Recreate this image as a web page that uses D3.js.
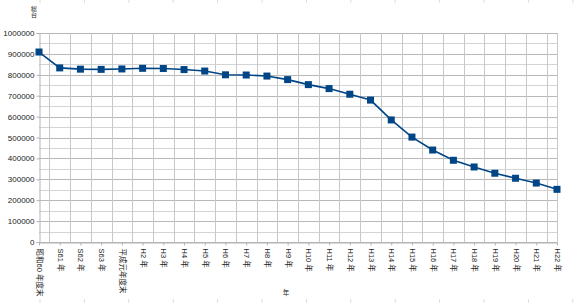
<!DOCTYPE html>
<html><head><meta charset="utf-8">
<script src="https://cdn.jsdelivr.net/npm/d3@7"></script>
<style>body{margin:0;background:#fff}svg{display:block}text{font-family:"Liberation Sans","Noto Sans CJK JP",sans-serif;fill:#222}</style>
</head><body><svg id="c" width="580" height="303"></svg>
<script>
const categories = ["昭和60 年度末","S61 年","S62 年","S63 年","平成元年度末","H2 年","H3 年","H4 年","H5 年","H6 年","H7 年","H8 年","H9 年","H10 年","H11 年","H12 年","H13 年","H14 年","H15 年","H16 年","H17 年","H18 年","H19 年","H20 年","H21 年","H22 年"];
const values = [909000,833000,827000,826000,828000,831000,830000,825000,818000,800000,799000,794000,777000,753000,734000,707000,679000,584000,502000,440000,391000,359000,329000,305000,282000,252000];
const yTicks = [0,100000,200000,300000,400000,500000,600000,700000,800000,900000,1000000];
const yTitle = ["総","台"];
const xTitle = "年";

const svg = d3.select("#c");
const L=39,R=557,T=33,B=242;
const x = d3.scalePoint().domain(categories).range([L,R]);
const y = d3.scaleLinear().domain([0,1000000]).range([B,T]);
const step = x.step();

// faint frame marks
const marks = d3.range(0,13).map(i=>40+i*44.4);
svg.append("g").selectAll("line").data(marks).join("line")
  .attr("x1",d=>d).attr("x2",d=>d).attr("y1",0).attr("y2",3).attr("stroke","#ddd");
svg.append("g").selectAll("line").data(marks).join("line")
  .attr("x1",d=>d).attr("x2",d=>d).attr("y1",299).attr("y2",303).attr("stroke","#ddd");

const grid = svg.append("g");
const hMinor = d3.range(0,1000001,50000);
grid.selectAll("line.h").data(hMinor).join("line").attr("class","h")
  .attr("x1",L).attr("x2",R).attr("y1",d=>Math.round(y(d))+0.5).attr("y2",d=>Math.round(y(d))+0.5)
  .attr("stroke",d=>d%100000===0?"#b8b8b8":"#d4d4d4").attr("stroke-width",1);
const vx = categories.slice(0,-1).map(c=>x(c)+step/2);
grid.selectAll("line.v").data(vx).join("line").attr("class","v")
  .attr("x1",d=>Math.round(d)+0.5).attr("x2",d=>Math.round(d)+0.5).attr("y1",T).attr("y2",B)
  .attr("stroke","#c8c8c8");
grid.append("line").attr("x1",R+0.5).attr("x2",R+0.5).attr("y1",T).attr("y2",B).attr("stroke","#c8c8c8");

const yAxis = d3.axisLeft(y).tickValues(yTicks).tickSize(3).tickPadding(2).tickFormat(d3.format("d"));
const gy = svg.append("g").attr("transform",`translate(${L+0.5},0)`).call(yAxis);
gy.select(".domain").attr("stroke","#b3b3b3");
gy.selectAll(".tick line").attr("stroke","#b3b3b3");
gy.selectAll("text").attr("font-size",8).attr("fill","#333");

const xAxis = d3.axisBottom(x).tickSize(3).tickSizeOuter(0);
const gx = svg.append("g").attr("transform",`translate(0,${B+0.5})`).call(xAxis);
gx.select(".domain").attr("stroke","#b3b3b3");
gx.selectAll(".tick line").attr("stroke","#b3b3b3");
gx.selectAll("text").attr("font-size",7.5).attr("fill","#333")
  .attr("text-anchor","start").attr("dy",null).attr("y",null)
  .attr("dominant-baseline","central")
  .attr("transform","translate(0,6) rotate(90)");

svg.append("g").selectAll("text").data(yTitle).join("text")
  .attr("x",34).attr("y",(d,i)=>11+i*6).attr("font-size",6).attr("text-anchor","middle").text(d=>d);
svg.append("text").attr("x",286).attr("y",295).attr("font-size",6.5).attr("text-anchor","middle").text(xTitle);

const line = d3.line().x((d,i)=>x(categories[i])).y(d=>y(d));
svg.append("path").datum(values).attr("d",line).attr("fill","none").attr("stroke","#004586").attr("stroke-width",1.6);
svg.append("g").selectAll("rect").data(values).join("rect")
  .attr("x",(d,i)=>x(categories[i])-3.5).attr("y",d=>y(d)-3.5).attr("width",7).attr("height",7)
  .attr("fill","#004586");
</script></body></html>
